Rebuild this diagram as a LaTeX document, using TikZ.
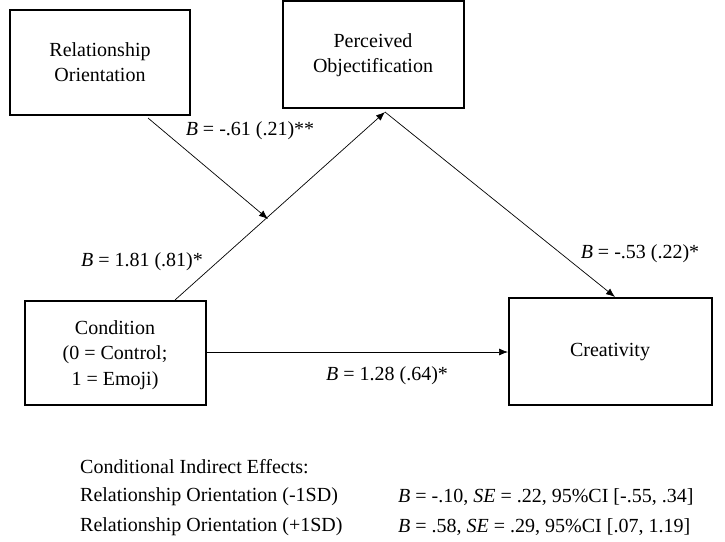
\documentclass[tikz,border=0pt]{standalone}
\usepackage{fontspec}
\setmainfont{Liberation Serif}
\usetikzlibrary{arrows.meta}
\begin{document}
\begin{tikzpicture}[x=1pt,y=-1pt,
  box/.style={draw,line width=1.5pt,align=center,font=\fontsize{20}{25.5}\selectfont},
  lbl/.style={font=\fontsize{20}{24}\selectfont,inner sep=0pt},
  arr/.style={-{Latex[length=9pt,width=7pt]},line width=0.7pt}]
\useasboundingbox (0,0) rectangle (725,541);
\draw[box] (10,10) rectangle (190,115);
\node[box,draw=none] (ro) at (100,62) {Relationship\\Orientation};
\draw[box] (283,1) rectangle (464,108);
\node[box,draw=none] (po) at (373,55) {Perceived\\Objectification};
\draw[box] (25,301) rectangle (206,405);
\node[box,draw=none] (co) at (115,355) {Condition\\(0 = Control;\\1 = Emoji)};
\draw[box] (509,298) rectangle (712,405);
\node[box,draw=none] (cr) at (610,352) {Creativity};
\coordinate (cotop) at (175,300);
\coordinate (pobot) at (385,112);
\coordinate (rob) at (148,118);
\coordinate (mod) at (268,219);
\coordinate (crtop) at (615,297);
\coordinate (cor) at (207,352);
\coordinate (crl) at (508,352);
\draw[arr] (cotop) -- (pobot);
\draw[arr] (rob) -- (mod);
\draw[arr] (pobot) -- (crtop);
\draw[arr] (cor) -- (crl);
\node[lbl] (l1) at (250,131) {\textit{B} = -.61 (.21)**};
\node[lbl] (l2) at (142,262) {\textit{B} = 1.81 (.81)*};
\node[lbl] (l3) at (640,254) {\textit{B} = -.53 (.22)*};
\node[lbl] (l4) at (387,376) {\textit{B} = 1.28 (.64)*};
\node[lbl,anchor=west] (t0) at (80,467) {Conditional Indirect Effects:};
\node[lbl,anchor=west] (t1) at (80,497) {Relationship Orientation (-1SD)};
\node[lbl,anchor=west] (t2) at (80,527) {Relationship Orientation (+1SD)};
\node[lbl,anchor=west] (t3) at (398,497) {\textit{B} = -.10, \textit{SE} = .22, 95\%CI [-.55, .34]};
\node[lbl,anchor=west] (t4) at (398,527) {\textit{B} = .58, \textit{SE} = .29, 95\%CI [.07, 1.19]};
\end{tikzpicture}
\end{document}
